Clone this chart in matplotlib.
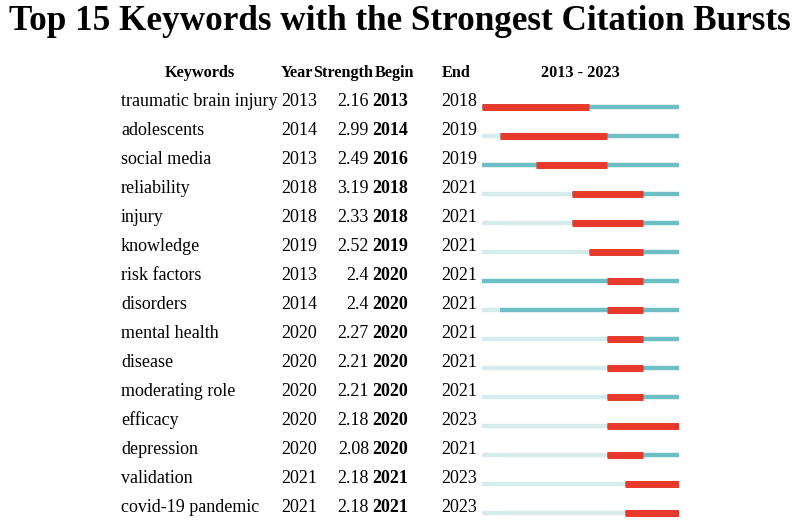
import matplotlib
matplotlib.use("Agg")
import matplotlib.pyplot as plt
import matplotlib.transforms as mtransforms

keywords = ["traumatic brain injury", "adolescents", "social media", "reliability",
            "injury", "knowledge", "risk factors", "disorders", "mental health",
            "disease", "moderating role", "efficacy", "depression", "validation",
            "covid-19 pandemic"]
years = [2013, 2014, 2013, 2018, 2018, 2019, 2013, 2014, 2020, 2020, 2020, 2020, 2020, 2021, 2021]
strengths = ["2.16", "2.99", "2.49", "3.19", "2.33", "2.52", "2.4", "2.4", "2.27",
             "2.21", "2.21", "2.18", "2.08", "2.18", "2.18"]
begins = [2013, 2014, 2016, 2018, 2018, 2019, 2020, 2020, 2020, 2020, 2020, 2020, 2020, 2021, 2021]
ends = [2018, 2019, 2019, 2021, 2021, 2021, 2021, 2021, 2021, 2021, 2021, 2023, 2021, 2023, 2023]
first_year, last_year = 2013, 2023

RED = "#E8392B"
TEAL = "#6DBFC3"
LIGHT = "#D6EBEC"
FONT = "Liberation Serif"

W, H = 800, 520
fig = plt.figure(figsize=(W / 100, H / 100), dpi=100)

# bar area in pixels: x 482..679, rows start at y=107, 29 px apart
row_h = 29
top_px = 92.5
ax = fig.add_axes([482 / W, 0, (679 - 482) / W, 1 - top_px / H])
ax.set_xlim(first_year, last_year + 1)
ax.set_ylim(-0.5 + (H - top_px) / row_h, -0.5)
ax.axis("off")

for i in range(len(keywords)):
    ax.hlines(i, first_year, years[i], color=LIGHT, lw=3.2)
    ax.hlines(i, years[i], last_year + 1, color=TEAL, lw=3.2)
    ax.hlines(i, begins[i], ends[i] + 1, color=RED, lw=5)

tr = mtransforms.blended_transform_factory(fig.transFigure, ax.transData)
fs = 13
off = -0.2
for i in range(len(keywords)):
    y = i + off
    ax.text(121 / W, y, keywords[i], transform=tr, ha="left", va="center",
            fontsize=fs, family=FONT, clip_on=False)
    ax.text(281 / W, y, str(years[i]), transform=tr, ha="left", va="center",
            fontsize=fs, family=FONT, clip_on=False)
    ax.text(369 / W, y, strengths[i], transform=tr, ha="right", va="center",
            fontsize=fs, family=FONT, clip_on=False)
    ax.text(372 / W, y, str(begins[i]), transform=tr, ha="left", va="center",
            fontsize=fs, family=FONT, weight="bold", clip_on=False)
    ax.text(441 / W, y, str(ends[i]), transform=tr, ha="left", va="center",
            fontsize=fs, family=FONT, clip_on=False)

hy = -1.17
headers = [("Keywords", 200, "center"), ("Year", 281, "left"), ("Strength", 313, "left"),
           ("Begin", 375, "left"), ("End", 442, "left"),
           ("%d - %d" % (first_year, last_year), 580, "center")]
for label, x, ha in headers:
    ax.text(x / W, hy, label, transform=tr, ha=ha, va="center", fontsize=11.7,
            family=FONT, weight="bold", clip_on=False)

fig.text(0.5, 1 - 21 / H, "Top 15 Keywords with the Strongest Citation Bursts",
         ha="center", va="center", fontsize=25.3, family=FONT, weight="bold")

fig.savefig("out.png", dpi=100)
